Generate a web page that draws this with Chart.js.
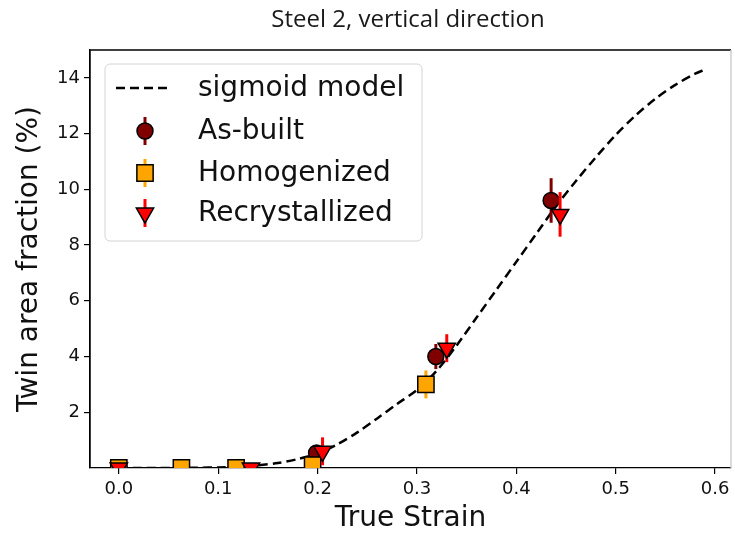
<!DOCTYPE html>
<html>
<head>
<meta charset="utf-8">
<script src="https://cdn.jsdelivr.net/npm/chart.js@4"></script>
<style>
  html, body { margin: 0; padding: 0; background: #fff; }
  #wrap { width: 735px; height: 536px; }
</style>
</head>
<body>
<div id="wrap"><canvas id="myChart" width="735" height="536"></canvas></div>
<script>
// sigmoid model curve
const curveX = [0, 0.02, 0.04, 0.06, 0.08, 0.10, 0.12, 0.14, 0.16, 0.18, 0.20, 0.22, 0.24, 0.26, 0.28,
                0.30, 0.32, 0.34, 0.36, 0.38, 0.40, 0.42, 0.44, 0.46, 0.48, 0.50, 0.52, 0.54, 0.56, 0.58, 0.59];
const curveY = [0, 0, 0, 0, 0.01, 0.02, 0.05, 0.10, 0.18, 0.32, 0.52, 0.85, 1.28, 1.78, 2.30,
                2.80, 3.50, 4.40, 5.40, 6.40, 7.40, 8.40, 9.40, 10.30, 11.15, 11.95, 12.65, 13.25, 13.75, 14.15, 14.30];

// measurements
const asBuiltX = [0, 0.063, 0.199, 0.319, 0.435];
const asBuiltY = [0, 0, 0.54, 4.0, 9.6];
const asBuiltErr = [0, 0, 0, 0.45, 0.8];

const homX = [0, 0.063, 0.118, 0.195, 0.309];
const homY = [0, 0, 0, 0.1, 3.0];
const homErr = [0, 0, 0, 0, 0.5];

const recX = [0, 0.133, 0.205, 0.33, 0.444];
const recY = [0, 0, 0.6, 4.3, 9.1];
const recErr = [0, 0, 0.5, 0.5, 0.8];

const xTicks = [0, 0.1, 0.2, 0.3, 0.4, 0.5, 0.6];
const yTicks = [2, 4, 6, 8, 10, 12, 14];

const FONT = "'DejaVu Sans', sans-serif";

function pts(xs, ys) {
    return xs.map((x, i) => ({ x: x, y: ys[i] }));
}

// vertical error bars, drawn just before each dataset's markers
const errorBars = {
    id: 'errorBars',
    beforeDatasetDraw(chart, args) {
        const ds = chart.data.datasets[args.index];
        if (!ds.err) return;
        const { ctx, chartArea } = chart;
        const xs = chart.scales.x, ys = chart.scales.y;
        ctx.save();
        ctx.beginPath();
        ctx.rect(chartArea.left, chartArea.top, chartArea.right - chartArea.left, chartArea.bottom - chartArea.top);
        ctx.clip();
        ctx.strokeStyle = ds.barColor;
        ctx.lineWidth = 3;
        ds.data.forEach((p, i) => {
            const e = ds.err[i];
            if (!e) return;
            const px = xs.getPixelForValue(p.x);
            ctx.beginPath();
            ctx.moveTo(px, ys.getPixelForValue(p.y - e));
            ctx.lineTo(px, ys.getPixelForValue(p.y + e));
            ctx.stroke();
        });
        ctx.restore();
    }
};

// frame, title and matplotlib style legend
const decorations = {
    id: 'decorations',
    afterDraw(chart) {
        const { ctx, chartArea: a } = chart;
        ctx.save();
        ctx.strokeStyle = '#000';
        ctx.lineWidth = 1.3;
        ctx.beginPath();
        ctx.moveTo(a.left, a.bottom);
        ctx.lineTo(a.left, a.top);
        ctx.lineTo(a.right, a.top);
        ctx.stroke();
        ctx.strokeStyle = '#c8c8c8';
        ctx.beginPath();
        ctx.moveTo(a.right, a.top);
        ctx.lineTo(a.right, a.bottom);
        ctx.stroke();

        // title
        ctx.fillStyle = '#1a1a1a';
        ctx.font = "24px 'Open Sans', sans-serif";
        ctx.textAlign = 'center';
        ctx.textBaseline = 'middle';
        ctx.fillText('Steel 2, vertical direction', 408, 20);

        // legend box
        const bx = 105, by = 64, bw = 317, bh = 177, r = 5;
        ctx.beginPath();
        ctx.roundRect(bx, by, bw, bh, r);
        ctx.fillStyle = 'rgba(255,255,255,0.85)';
        ctx.fill();
        ctx.strokeStyle = '#d4d4d4';
        ctx.lineWidth = 1;
        ctx.stroke();

        const textX = 198, markX = 145;
        const rows = [88, 131, 173, 213];
        const ds = chart.data.datasets;

        ctx.strokeStyle = '#000';
        ctx.lineWidth = 2.5;
        ctx.setLineDash([9, 5]);
        ctx.beginPath();
        ctx.moveTo(116, rows[0]);
        ctx.lineTo(172, rows[0]);
        ctx.stroke();
        ctx.setLineDash([]);

        for (let i = 1; i < 4; i++) {
            const d = ds[i];
            ctx.strokeStyle = d.barColor;
            ctx.lineWidth = 3;
            ctx.beginPath();
            ctx.moveTo(markX, rows[i] - 14);
            ctx.lineTo(markX, rows[i] + 14);
            ctx.stroke();
            ctx.fillStyle = d.backgroundColor;
            ctx.strokeStyle = '#000';
            ctx.lineWidth = d.pointBorderWidth;
            Chart.helpers.drawPoint(ctx, {
                pointStyle: d.pointStyle,
                radius: d.pointRadius,
                rotation: d.pointRotation || 0,
                borderWidth: d.pointBorderWidth
            }, markX, rows[i]);
        }

        ctx.fillStyle = '#111';
        ctx.font = '28px ' + FONT;
        ctx.textAlign = 'left';
        ctx.textBaseline = 'middle';
        ds.forEach((d, i) => ctx.fillText(d.label, textX, rows[i] + 1));
        ctx.restore();
    }
};

const ctx = document.getElementById('myChart').getContext('2d');
const myChart = new Chart(ctx, {
    type: 'scatter',
    data: {
        datasets: [{
            label: 'sigmoid model',
            data: pts(curveX, curveY),
            showLine: true,
            borderColor: '#000',
            borderWidth: 2.5,
            borderDash: [9, 5],
            pointRadius: 0,
            tension: 0.3,
            clip: 0,
            order: 4
        }, {
            label: 'As-built',
            data: pts(asBuiltX, asBuiltY),
            err: asBuiltErr,
            barColor: '#800000',
            backgroundColor: '#800000',
            borderColor: '#000',
            pointStyle: 'circle',
            pointRadius: 8,
            pointBorderWidth: 1.5,
            clip: 0,
            order: 3
        }, {
            label: 'Homogenized',
            data: pts(homX, homY),
            err: homErr,
            barColor: '#ffa500',
            backgroundColor: '#ffa500',
            borderColor: '#000',
            pointStyle: 'rect',
            pointRadius: 11.5,
            pointBorderWidth: 1.5,
            clip: 0,
            order: 2
        }, {
            label: 'Recrystallized',
            data: pts(recX, recY),
            err: recErr,
            barColor: '#ff0000',
            backgroundColor: '#ff0000',
            borderColor: '#000',
            pointStyle: 'triangle',
            pointRotation: 180,
            rotation: 180,
            pointRadius: 10,
            pointBorderWidth: 1.5,
            clip: 0,
            order: 1
        }]
    },
    options: {
        responsive: false,
        animation: false,
        layout: { autoPadding: false, padding: { top: 50, right: 4, left: 0, bottom: 0 } },
        scales: {
            x: {
                type: 'linear',
                min: -0.029,
                max: 0.616,
                afterFit: s => { s.height = 68; s.paddingLeft = 0; s.paddingRight = 0; },
                afterBuildTicks: s => { s.ticks = xTicks.map(v => ({ value: v })); },
                grid: { drawOnChartArea: false, color: '#000', lineWidth: 1.2, tickLength: 6 },
                border: { display: true, color: '#000', width: 1.3 },
                ticks: {
                    color: '#111',
                    font: { family: FONT, size: 18 },
                    padding: 5,
                    maxRotation: 0,
                    callback: v => v.toFixed(1)
                },
                title: {
                    display: true,
                    text: 'True Strain',
                    color: '#111',
                    font: { family: FONT, size: 28 },
                    padding: { top: 0, bottom: 0 }
                }
            },
            y: {
                min: 0,
                max: 15,
                afterFit: s => { s.width = 90; s.paddingTop = 0; s.paddingBottom = 0; },
                afterBuildTicks: s => { s.ticks = yTicks.map(v => ({ value: v })); },
                grid: { drawOnChartArea: false, color: '#000', lineWidth: 1.2, tickLength: 6 },
                border: { display: true, color: '#000', width: 1.3 },
                ticks: {
                    color: '#111',
                    font: { family: FONT, size: 18 },
                    padding: 4
                },
                title: {
                    display: true,
                    text: 'Twin area fraction (%)',
                    color: '#111',
                    font: { family: FONT, size: 28 },
                    padding: { top: 13, bottom: 0 }
                }
            }
        },
        plugins: {
            legend: { display: false },
            tooltip: { enabled: false }
        }
    },
    plugins: [errorBars, decorations]
});
</script>
</body>
</html>
